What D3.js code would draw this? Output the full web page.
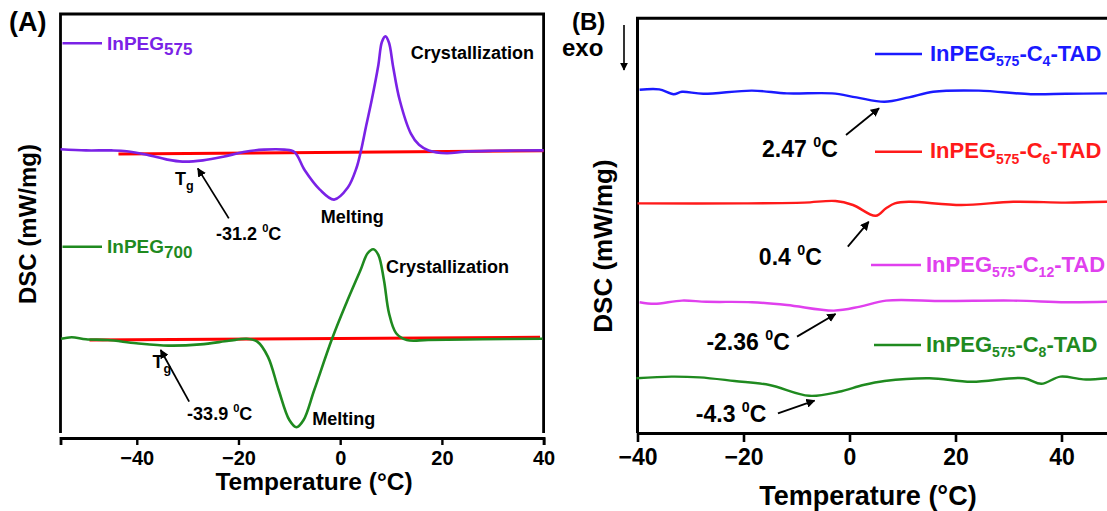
<!DOCTYPE html>
<html>
<head>
<meta charset="utf-8">
<script src="https://cdn.jsdelivr.net/npm/d3@7"></script>
<style>
  body { margin: 0; background: #fff; }
  text { font-family: "Liberation Sans", Arial, sans-serif; font-weight: bold; }
</style>
</head>
<body>
<svg id="chart" width="1107" height="511"></svg>
<script>
// ---- panel A data (temperature in °C, heat flow in arbitrary mW/mg) ----
const tA575 = [-55,-50,-45,-42,-38,-34,-31,-27,-23,-19,-15,-11,-9,-7,-4,-1.2,1.5,3.2,4.1,5.1,6.2,7.5,8.2,8.9,9.6,10.4,11.7,13.9,15.5,17.4,20.9,24.5,30,40];
const vA575 = [7.22,7.19,7.19,7.17,7.08,6.96,6.91,6.94,7.03,7.15,7.21,7.21,7.15,6.70,6.21,5.96,6.26,6.75,7.19,7.80,8.45,9.32,9.90,10.04,9.88,9.29,8.45,7.61,7.33,7.19,7.12,7.16,7.18,7.19];
const tA700 = [-54.9,-52.8,-50,-45.7,-40.1,-33.8,-27.5,-21.9,-18.4,-16.3,-14.2,-12.1,-10,-8.6,-7.2,-5.1,-1.6,1.2,4,5.4,6.5,7.5,8.6,9.6,11,13.1,17.3,27.9,39.8];
const vA700 = [2.48,2.52,2.47,2.45,2.37,2.31,2.34,2.43,2.48,2.41,2.03,1.20,0.45,0.27,0.45,1.20,2.48,3.37,4.20,4.62,4.72,4.58,3.95,3.12,2.62,2.45,2.45,2.47,2.48];
// red baselines
const tBase575 = [-43.6, 40], vBase575 = [7.10, 7.18];
const tBase700 = [-49.3, 39.3], vBase700 = [2.45, 2.52];
const ticksA = [-40, -20, 0, 20, 40];

// ---- panel B data ----
const tC4 = [-39.6,-35.9,-33.2,-31.6,-27.6,-18.4,-11.8,-3.3,1.3,6.6,11.2,15.8,24.4,34.2,40.8,48.6];
const vC4 = [8.58,8.59,8.47,8.53,8.48,8.56,8.49,8.49,8.39,8.28,8.39,8.53,8.56,8.47,8.48,8.49];
const tC6 = [-40,-20,-8.55,-2.64,0.66,4.94,6.9,8.55,11.2,21.1,30.9,40.8,48.6];
const vC6 = [5.74,5.74,5.76,5.80,5.70,5.43,5.62,5.74,5.78,5.70,5.78,5.76,5.78];
const tC12 = [-39.6,-36.8,-31.6,-27,-18.4,-11.8,-2.96,2.0,6.9,17.8,30.9,40.8,48.6];
const vC12 = [3.27,3.23,3.31,3.28,3.27,3.20,3.06,3.16,3.31,3.30,3.31,3.27,3.28];
const tC8 = [-40.2,-33.6,-28.3,-21.7,-15.1,-7.6,-2.0,2.6,6.6,15.1,23.0,32.9,36.2,39.8,44.1,48.6];
const vC8 = [1.37,1.41,1.39,1.30,1.20,0.93,1.03,1.20,1.30,1.37,1.28,1.37,1.23,1.41,1.34,1.37];
const ticksB = [-40, -20, 0, 20, 40];

const svg = d3.select("#chart");
svg.append("rect").attr("width", 1107).attr("height", 511).attr("fill", "#fff");

svg.append("defs").append("marker")
  .attr("id", "head").attr("viewBox", "0 0 10 10")
  .attr("refX", 9).attr("refY", 5)
  .attr("markerWidth", 5).attr("markerHeight", 5)
  .attr("orient", "auto")
  .append("path").attr("d", "M0,0L10,5L0,10Z").attr("fill", "#000");

function curve(g, x, y, ts, vs, color, w) {
  const line = d3.line().x(d => x(d[0])).y(d => y(d[1])).curve(d3.curveCatmullRom.alpha(0.5));
  g.append("path").datum(d3.zip(ts, vs))
    .attr("d", line).attr("fill", "none")
    .attr("stroke", color).attr("stroke-width", w)
    .attr("stroke-linejoin", "round");
}

function note(g, x, y, a) {
  const t = g.append("text").attr("x", x(a.t)).attr("y", y(a.v))
    .attr("font-size", a.size);
  t.append("tspan").text(a.main);
  if (a.sup) {
    t.append("tspan").text(a.sup).attr("font-size", a.size * 0.62).attr("dy", -a.size * 0.42);
    t.append("tspan").text(a.after).attr("dy", a.size * 0.42);
  }
  if (a.sub) {
    t.append("tspan").text(a.sub).attr("font-size", a.size * 0.7).attr("dy", a.size * 0.3);
  }
}

function arrow(g, x, y, a) {
  g.append("line")
    .attr("x1", x(a.from[0])).attr("y1", y(a.from[1]))
    .attr("x2", x(a.to[0])).attr("y2", y(a.to[1]))
    .attr("stroke", "#000").attr("stroke-width", 1.8)
    .attr("marker-end", "url(#head)");
}

// legend text with subscripts: parts = [[text, isSub], ...]
function legend(g, x0, len, yLine, parts, color, size, subSize, gap) {
  g.append("line").attr("x1", x0).attr("x2", x0 + len)
    .attr("y1", yLine).attr("y2", yLine)
    .attr("stroke", color).attr("stroke-width", 2.6);
  const t = g.append("text").attr("x", x0 + len + gap).attr("y", yLine + 6.5)
    .attr("fill", color).attr("font-size", size);
  let down = false;
  parts.forEach(p => {
    const s = t.append("tspan").text(p[0]);
    if (p[1] && !down) { s.attr("font-size", subSize).attr("dy", size * 0.26); down = true; }
    else if (!p[1] && down) { s.attr("dy", -size * 0.26); down = false; }
    else if (p[1]) s.attr("font-size", subSize);
  });
}

// ================= panel A =================
const xA = d3.scaleLinear().domain([-55, 40]).range([60.5, 543.6]);
const yA = d3.scaleLinear().domain([0, 10.6]).range([438, 14]);
const gA = svg.append("g");

gA.append("path")
  .attr("d", `M${xA(-55)},433V14H${xA(40)}V433`)
  .attr("fill", "none").attr("stroke", "#000").attr("stroke-width", 2.8);

const axA = gA.append("g").attr("transform", "translate(0,438)")
  .call(d3.axisBottom(xA).tickValues(ticksA).tickSize(7).tickSizeOuter(7).tickPadding(6));
axA.select(".domain").attr("stroke-width", 2.8);
axA.selectAll(".tick line").attr("stroke-width", 2.4);
axA.selectAll(".tick text").attr("font-size", 20).attr("font-family", "Liberation Sans, Arial").attr("font-weight", "bold").attr("fill", "#000");

curve(gA, xA, yA, tBase575, vBase575, "#ff0000", 3);
curve(gA, xA, yA, tBase700, vBase700, "#ff0000", 3);
curve(gA, xA, yA, tA575, vA575, "#7a22e6", 2.6);
curve(gA, xA, yA, tA700, vA700, "#1f8a1f", 2.6);

legend(gA, 62.5, 39.5, 43.3, [["InPEG", false], ["575", true]], "#7a22e6", 19, 17, 5);
legend(gA, 62.5, 39.5, 246.7, [["InPEG", false], ["700", true]], "#1f8a1f", 19, 17, 5);

const notesA = [
  { t: 13.9, v: 9.475, main: "Crystallization", size: 18 },
  { t: -32.5, v: 6.325, main: "T", sub: "g", size: 18 },
  { t: -3.8, v: 5.375, main: "Melting", size: 18 },
  { t: -24.4, v: 4.95, main: "-31.2 ", sup: "0", after: "C", size: 18 },
  { t: 9.0, v: 4.125, main: "Crystallization", size: 18 },
  { t: -36.9, v: 1.75, main: "T", sub: "g", size: 18 },
  { t: -30.1, v: 0.45, main: "-33.9 ", sup: "0", after: "C", size: 18 },
  { t: -5.5, v: 0.325, main: "Melting", size: 18 }
];
notesA.forEach(a => note(gA, xA, yA, a));
arrow(gA, xA, yA, { from: [-21.9, 5.49], to: [-28.0, 6.74] });
arrow(gA, xA, yA, { from: [-29.7, 0.91], to: [-35.3, 2.2] });

gA.append("text").attr("x", 9).attr("y", 31).attr("font-size", 27).text("(A)");
gA.append("text").attr("x", 314).attr("y", 490)
  .attr("text-anchor", "middle").attr("font-size", 24.5).text("Temperature (°C)");
gA.append("text").attr("transform", "translate(36,224) rotate(-90)")
  .attr("text-anchor", "middle").attr("font-size", 24).text("DSC (mW/mg)");

// ================= panel B =================
const xB = d3.scaleLinear().domain([-40, 50]).range([637.5, 1114.5]);
const yB = d3.scaleLinear().domain([0, 10.375]).range([433, 18]);
const gB = svg.append("g");

gB.append("path")
  .attr("d", `M${xB(50)},18.3H${xB(-40)}V433`)
  .attr("fill", "none").attr("stroke", "#000").attr("stroke-width", 3);

const axB = gB.append("g").attr("transform", "translate(0,433)")
  .call(d3.axisBottom(xB).tickValues(ticksB).tickSize(9).tickSizeOuter(0).tickPadding(7));
axB.select(".domain").attr("stroke-width", 3);
axB.selectAll(".tick line").attr("stroke-width", 2.6);
axB.selectAll(".tick text").attr("font-size", 23).attr("font-family", "Liberation Sans, Arial").attr("font-weight", "bold").attr("fill", "#000");

curve(gB, xB, yB, tC4, vC4, "#1a1aff", 2.4);
curve(gB, xB, yB, tC6, vC6, "#ff1a1a", 2.4);
curve(gB, xB, yB, tC12, vC12, "#e040ee", 2.4);
curve(gB, xB, yB, tC8, vC8, "#1f8a1f", 2.4);

legend(gB, 875, 47, 54, [["InPEG", false], ["575", true], ["-C", false], ["4", true], ["-TAD", false]], "#1a1aff", 22, 14, 8);
legend(gB, 875, 47, 151.7, [["InPEG", false], ["575", true], ["-C", false], ["6", true], ["-TAD", false]], "#ff1a1a", 22, 14, 8);
legend(gB, 871, 50, 265, [["InPEG", false], ["575", true], ["-C", false], ["12", true], ["-TAD", false]], "#e040ee", 22, 14, 5);
legend(gB, 874, 47, 345, [["InPEG", false], ["575", true], ["-C", false], ["8", true], ["-TAD", false]], "#1f8a1f", 22, 14, 5);

const notesB = [
  { t: -16.5, v: 6.9, main: "2.47 ", sup: "0", after: "C", size: 23 },
  { t: -17.1, v: 4.2, main: "0.4 ", sup: "0", after: "C", size: 23 },
  { t: -27.0, v: 2.075, main: "-2.36 ", sup: "0", after: "C", size: 23 },
  { t: -29.0, v: 0.28, main: "-4.3 ", sup: "0", after: "C", size: 23 }
];
notesB.forEach(a => note(gB, xB, yB, a));
arrow(gB, xB, yB, { from: [-0.66, 7.45], to: [5.57, 8.12] });
arrow(gB, xB, yB, { from: [-0.32, 4.66], to: [3.62, 5.28] });
arrow(gB, xB, yB, { from: [-9.9, 2.41], to: [-2.64, 2.975] });
arrow(gB, xB, yB, { from: [-13.5, 0.49], to: [-6.6, 0.81] });

gB.append("text").attr("x", 572).attr("y", 30).attr("font-size", 24).text("(B)");
gB.append("text").attr("x", 562).attr("y", 56).attr("font-size", 24).text("exo");
gB.append("line").attr("x1", 624).attr("x2", 624).attr("y1", 25).attr("y2", 70)
  .attr("stroke", "#000").attr("stroke-width", 1.6).attr("marker-end", "url(#head)");
gB.append("text").attr("x", 868).attr("y", 505)
  .attr("text-anchor", "middle").attr("font-size", 27).text("Temperature (°C)");
gB.append("text").attr("transform", "translate(612,246) rotate(-90)")
  .attr("text-anchor", "middle").attr("font-size", 26).text("DSC (mW/mg)");
</script>
</body>
</html>
